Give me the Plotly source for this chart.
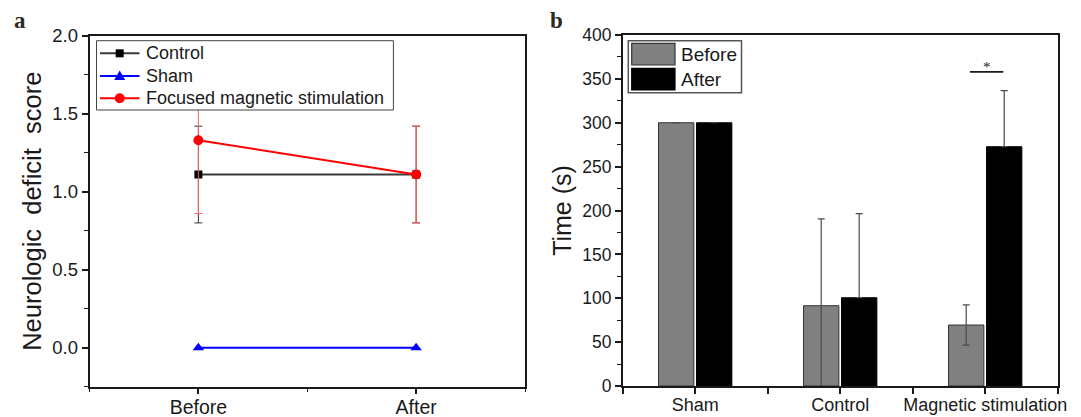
import plotly.graph_objects as go

# ---- panel a: neurologic deficit score ----
timepoints = ["Before", "After"]
control_score = [1.11, 1.11]
control_err = [0.31, 0.31]
sham_score = [0.0, 0.0]
fms_score = [1.33, 1.11]
fms_err = [0.47, 0.31]
series_names = ["Control", "Sham", "Focused magnetic stimulation"]

# ---- panel b: time (s) per group ----
groups = ["Sham", "Control", "Magnetic stimulation"]
phase_names = ["Before", "After"]
before_time = [300, 91.5, 69.5]
before_err = [None, 99, 23]
after_time = [300, 100.6, 272.7]
after_err = [None, 95.8, 64]
sig_label = "*"
sig_level = 358

W, H = 1081, 417
FONT = "Liberation Sans, Arial, sans-serif"
AX = "#1a1a1a"
TXT = "#1a1a1a"

CONTROL_LINE, CONTROL_MARK = "#3a3a3a", "#000000"
SHAM_COLOR = "#0000ff"
FMS_COLOR = "#ff0000"
BEFORE_FILL, BEFORE_EDGE = "#808080", "#333333"
AFTER_FILL, AFTER_EDGE = "#000000", "#000000"

tp_x = [i + 1 for i in range(len(timepoints))]
grp_x = [2 * i + 1 for i in range(len(groups))]

fig = go.Figure()

fig.add_trace(go.Scatter(
    x=tp_x, y=control_score, name=series_names[0], mode="lines+markers",
    line=dict(color=CONTROL_LINE, width=2),
    marker=dict(symbol="square", size=8, color=CONTROL_MARK),
    error_y=dict(type="data", array=control_err, color="#333333", thickness=1, width=4),
    xaxis="x", yaxis="y",
))
fig.add_trace(go.Scatter(
    x=tp_x, y=sham_score, name=series_names[1], mode="lines+markers",
    line=dict(color=SHAM_COLOR, width=2),
    marker=dict(symbol="triangle-up", size=10, color=SHAM_COLOR),
    xaxis="x", yaxis="y",
))
fig.add_trace(go.Scatter(
    x=tp_x, y=fms_score, name=series_names[2], mode="lines+markers",
    line=dict(color=FMS_COLOR, width=2),
    marker=dict(symbol="circle", size=10, color=FMS_COLOR),
    error_y=dict(type="data", array=fms_err, color="#ff6060", thickness=1, width=4),
    xaxis="x", yaxis="y",
))

fig.add_trace(go.Bar(
    x=grp_x, y=before_time, name=phase_names[0],
    marker=dict(color=BEFORE_FILL, line=dict(color=BEFORE_EDGE, width=1)),
    error_y=dict(type="data", array=before_err, color="#4a4a4a", thickness=1.2, width=3.5),
    xaxis="x2", yaxis="y2",
))
# the lower half of the "after" error bars is hidden inside the black bars
fig.add_trace(go.Bar(
    x=grp_x, y=after_time, name=phase_names[1],
    marker=dict(color=AFTER_FILL, line=dict(color=AFTER_EDGE, width=1)),
    error_y=dict(type="data", array=after_err, arrayminus=[0 if e else None for e in after_err],
                 symmetric=False, color="#4a4a4a", thickness=1.2, width=3.5),
    xaxis="x2", yaxis="y2",
))


def px_x(v):
    return v / W


def px_y(v):
    return 1 - v / H


axis_common = dict(
    showline=True, linecolor=AX, linewidth=1.5, mirror=True,
    ticks="outside", ticklen=6, tickwidth=1.5, tickcolor=AX,
    showgrid=False, zeroline=False, automargin=False,
)

fig.update_layout(
    width=W, height=H, autosize=False,
    margin=dict(l=0, r=0, t=0, b=0),
    paper_bgcolor="white", plot_bgcolor="white",
    font=dict(family=FONT, color=TXT),
    showlegend=False,
    barmode="group", bargap=0.476, bargroupgap=0.07,
    xaxis=dict(
        **axis_common, domain=[px_x(89.5), px_x(525)], range=[0.5, 2.5],
        tickvals=tp_x, ticktext=timepoints,
        tickfont=dict(size=19.5), ticklabelstandoff=-4, anchor="y",
        minor=dict(ticks="outside", ticklen=3.5, tickwidth=1.2, tickcolor=AX, dtick=0.5, tick0=0.5),
    ),
    yaxis=dict(
        **axis_common, domain=[px_y(386.7), px_y(35.7)], range=[-0.25, 2.0],
        tickvals=[0, 0.5, 1.0, 1.5, 2.0], ticktext=["0.0", "0.5", "1.0", "1.5", "2.0"],
        tickfont=dict(size=18.5),
        minor=dict(ticks="outside", ticklen=3.5, tickwidth=1.2, tickcolor=AX, dtick=0.25, tick0=0),
        title=dict(text="Neurologic  deficit  score", font=dict(size=25.5), standoff=3),
        anchor="x",
    ),
    xaxis2=dict(
        **axis_common, domain=[px_x(622.7), px_x(1057.7)], range=[0, 6],
        tickvals=list(range(7)),
        ticktext=["", groups[0], "", groups[1], "", groups[2], ""],
        tickfont=dict(size=18), ticklabelstandoff=-4, anchor="y2",
    ),
    yaxis2=dict(
        **axis_common, domain=[px_y(386), px_y(35)], range=[0, 400],
        tickvals=list(range(0, 401, 50)),
        tickfont=dict(size=17.5),
        minor=dict(ticks="outside", ticklen=3.5, tickwidth=1.2, tickcolor=AX, dtick=25, tick0=0),
        title=dict(text="Time (s)", font=dict(size=25), standoff=3),
        anchor="x2",
    ),
)

# panel letters
for letter, lx in (("a", 12), ("b", 548)):
    fig.add_annotation(
        text=f"<b>{letter}</b>", xref="paper", yref="paper",
        x=px_x(lx), y=px_y(6), xanchor="left", yanchor="top",
        showarrow=False, font=dict(family="Liberation Serif, Times New Roman, serif", size=23, color="#2a2a1e"),
    )

# significance bracket over the magnetic stimulation group
fig.add_shape(type="line", xref="x2", yref="y2", x0=4.79, x1=5.25, y0=sig_level, y1=sig_level,
              line=dict(color=TXT, width=1.8))
fig.add_annotation(text=sig_label, xref="x2", yref="y2", x=5.03, y=sig_level - 6,
                   xanchor="center", yanchor="bottom", showarrow=False,
                   font=dict(size=15, family="Liberation Serif, serif", color=TXT))


def rect_px(x0, y0, x1, y1, **kw):
    fig.add_shape(type="rect", xref="paper", yref="paper",
                  x0=px_x(x0), x1=px_x(x1), y0=px_y(y1), y1=px_y(y0), **kw)


def label_px(x, y, text, size):
    fig.add_annotation(text=text, xref="paper", yref="paper", x=px_x(x), y=px_y(y),
                       xanchor="left", yanchor="middle", showarrow=False,
                       font=dict(size=size, family=FONT, color=TXT))


# legend box for panel a
rect_px(96.5, 40.7, 393.4, 110, line=dict(color="#444444", width=1), fillcolor="white")
rows = [53.3, 76.0, 98.3]
line_colors = [CONTROL_LINE, SHAM_COLOR, FMS_COLOR]
for name, yc, col in zip(series_names, rows, line_colors):
    fig.add_shape(type="line", xref="paper", yref="paper",
                  x0=px_x(100), x1=px_x(139.5), y0=px_y(yc), y1=px_y(yc),
                  line=dict(color=col, width=2))
    label_px(144, yc, name, 18)
cx = 119.7
# square, triangle and circle glyphs
rect_px(cx - 4, rows[0] - 4, cx + 4, rows[0] + 4, line=dict(width=0), fillcolor=CONTROL_MARK)
ty = rows[1]
fig.add_shape(type="path", xref="paper", yref="paper",
              path=(f"M {px_x(cx - 5.5)} {px_y(ty + 4)} L {px_x(cx + 5.5)} {px_y(ty + 4)} "
                    f"L {px_x(cx)} {px_y(ty - 5.5)} Z"),
              line=dict(width=0), fillcolor=SHAM_COLOR)
fig.add_shape(type="circle", xref="paper", yref="paper",
              x0=px_x(cx - 5), x1=px_x(cx + 5), y0=px_y(rows[2] + 5), y1=px_y(rows[2] - 5),
              line=dict(width=0), fillcolor=FMS_COLOR)

# legend box for panel b
rect_px(628.3, 40.7, 741.5, 92.7, line=dict(color="#555555", width=1.5), fillcolor="white")
swatches = [(BEFORE_FILL, BEFORE_EDGE, 43.3, 65.0), (AFTER_FILL, AFTER_EDGE, 68.3, 90.0)]
for (fill, edge, top, bot), label in zip(swatches, phase_names):
    rect_px(631.7, top, 675, bot, line=dict(color=edge, width=1.2), fillcolor=fill)
    label_px(679, (top + bot) / 2, label, 19)

fig.write_html("out.html")
